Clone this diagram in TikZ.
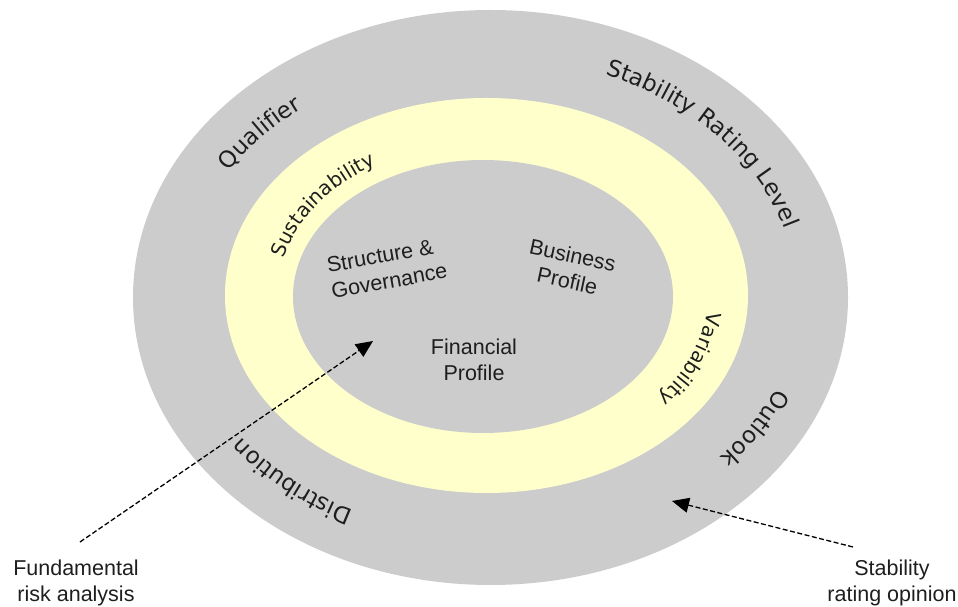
\documentclass[tikz,border=0pt]{standalone}
\usepackage{fontspec}
\setmainfont{Liberation Sans}
\newfontfamily\ringfont{DejaVu Sans}
\usetikzlibrary{decorations.text,arrows.meta}
\definecolor{ringgray}{HTML}{CCCCCC}
\definecolor{bandyellow}{HTML}{FFFFCC}
\definecolor{txt}{HTML}{1E1E1E}
\newcommand\outerlblfont{\ringfont\fontsize{23}{28}\selectfont}
\newcommand\bandlblfont{\ringfont\fontsize{20}{25}\selectfont}
\begin{document}
\begin{tikzpicture}[x=1pt,y=1pt,
  lbl/.style={text=txt, font=\fontsize{21.5}{26}\selectfont, inner sep=0pt},
  ringtext/.style={decorate, decoration={text along path, text align=center, text color=txt, text={#1}}},
  conn/.style={draw=black, line width=1.3pt, dash pattern=on 5pt off 2.5pt, -{Triangle[length=17pt,width=15pt]}}]
\useasboundingbox (0,0) rectangle (958,607);
% rings
\fill[ringgray] (490.5,309.5) ellipse [x radius=357.5, y radius=287.5];
\fill[bandyellow] (486.5,311.5) ellipse [x radius=261.5, y radius=197.5];
\fill[ringgray] (483,310.5) ellipse [x radius=190, y radius=136.5];
% outer ring labels
\path[ringtext={|\outerlblfont|Qualifier}] (489,310) ++(175:306 and 238) arc[start angle=175, end angle=105, x radius=306, y radius=238];
\path[ringtext={|\outerlblfont|Stability Rating Level}] (489,310) ++(77:308 and 240) arc[start angle=77, end angle=5, x radius=308, y radius=240];
\path[ringtext={|\outerlblfont|Outlook}] (489,310) ++(5:310 and 240) arc[start angle=5, end angle=-65, x radius=310, y radius=240];
\path[ringtext={|\outerlblfont|Distribution}] (489,310) ++(-97:306 and 238) arc[start angle=-97, end angle=-167, x radius=306, y radius=238];
% band labels
\path[ringtext={|\bandlblfont|Sustainability}] (486,311) ++(186:209 and 154) arc[start angle=186, end angle=106, x radius=209, y radius=154];
\path[ringtext={|\bandlblfont|Variability}] (486,311) ++(20:222 and 160) arc[start angle=20, end angle=-60, x radius=222, y radius=160];
% inner labels
\node[lbl, rotate=10, align=left] (sg) at (387,339) {Structure \&\\Governance};
\node[lbl, rotate=-12, align=center] (bp) at (570,339) {Business\\Profile};
\node[lbl, align=center] (fp) at (474,247) {Financial\\Profile};
% outside labels
\node[lbl, align=center] (fra) at (76,24) {Fundamental\\risk analysis};
\node[lbl, align=center] (sro) at (892,24) {Stability\\rating opinion};
% arrows
\coordinate (t1) at (80,65);
\coordinate (h1) at (373,266);
\coordinate (t2) at (853,60);
\coordinate (h2) at (672,106);
\draw[conn] (t1) -- (h1);
\draw[conn] (t2) -- (h2);
\end{tikzpicture}
\end{document}
